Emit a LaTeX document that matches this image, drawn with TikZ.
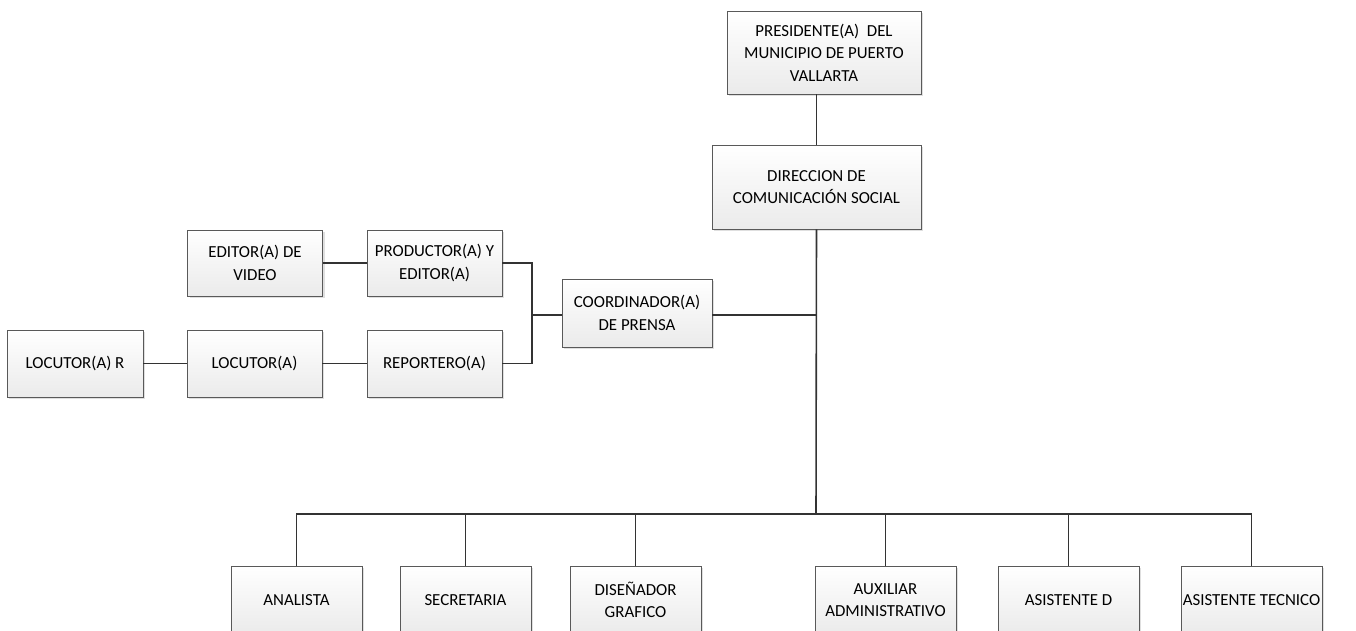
\documentclass[tikz,border=0pt]{standalone}
\usepackage{fontspec}
\setmainfont{Carlito}
\usetikzlibrary{shadows}

\begin{document}
\begin{tikzpicture}[
       x=0.02cm, y=-0.02cm,
       line width=0.9pt,
       draw=black!75,
       cargo/.style={
         rectangle,
         draw=black!65,
         line width=0.5pt,
         top color=white,
         bottom color=black!8,
         drop shadow={shadow xshift=1.2pt, shadow yshift=-1.2pt, fill=black!25},
         align=center,
         inner sep=1pt,
         font=\fontsize{9.6}{12.8}\selectfont,
         minimum width=2.7cm,
         minimum height=1.34cm
       },
       linea/.style={
         draw=black!80,
         line width=0.9pt
       }
     ]

       \clip (0,0) rectangle (1356,631);

       \node (pres) at (824,52.5) [cargo, minimum width=3.88cm, minimum height=1.66cm]{PRESIDENTE(A) \ DEL\\MUNICIPIO DE PUERTO\\VALLARTA};
       \node (dir) at (816.5,187) [cargo, minimum width=4.18cm, minimum height=1.68cm]{DIRECCION DE\\COMUNICACIÓN SOCIAL};

       \node (coord) at (637,313) [cargo, minimum width=3cm, minimum height=1.36cm]{COORDINADOR(A)\\DE PRENSA};

       \node (prod) at (434.5,263) [cargo, minimum height=1.32cm]{PRODUCTOR(A) Y\\EDITOR(A)};
       \node (edit) at (255,263) [cargo, minimum height=1.32cm]{EDITOR(A) DE\\VIDEO};

       \node (rep) at (434.5,363.5) [cargo]{REPORTERO(A)};
       \node (loc) at (254.5,363.5) [cargo]{LOCUTOR(A)};
       \node (locr) at (75,363.5) [cargo, minimum width=2.72cm]{LOCUTOR(A) R};

       \node (anal) at (296.5,600) [cargo, minimum width=2.62cm, minimum height=1.36cm]{ANALISTA};
       \node (secr) at (465.5,600) [cargo, minimum width=2.62cm, minimum height=1.36cm]{SECRETARIA};
       \node (disg) at (635.5,600) [cargo, minimum width=2.62cm, minimum height=1.36cm]{DISEÑADOR\\GRAFICO};
       \node (auxa) at (885.5,600) [cargo, minimum width=2.82cm, minimum height=1.36cm]{AUXILIAR\\ADMINISTRATIVO};
       \node (asid) at (1068.5,600) [cargo, minimum width=2.82cm, minimum height=1.36cm]{ASISTENTE D};
       \node (asit) at (1251.5,600) [cargo, minimum width=2.82cm, minimum height=1.36cm]{ASISTENTE TECNICO};

       \coordinate (bus) at (816,514);
       \coordinate (junc) at (532,315);

       \draw[linea] (dir.north) -- (dir.north |- pres.south);
       \draw[linea] (dir.south) -- (bus);
       \draw[linea] (coord.east |- junc) -- (junc -| bus);

       \draw[linea] (prod.east) -| (junc);
       \draw[linea] (rep.east) -| (junc);
       \draw[linea] (junc) -- (coord.west |- junc);

       \draw[linea] (edit) -- (prod);
       \draw[linea] (locr) -- (loc);
       \draw[linea] (loc) -- (rep);

       \draw[linea] (anal.north) |- (bus) -| (asit.north);
       \draw[linea] (secr.north) -- (secr.north |- bus);
       \draw[linea] (disg.north) -- (disg.north |- bus);
       \draw[linea] (auxa.north) -- (auxa.north |- bus);
       \draw[linea] (asid.north) -- (asid.north |- bus);

\end{tikzpicture}
\end{document}
